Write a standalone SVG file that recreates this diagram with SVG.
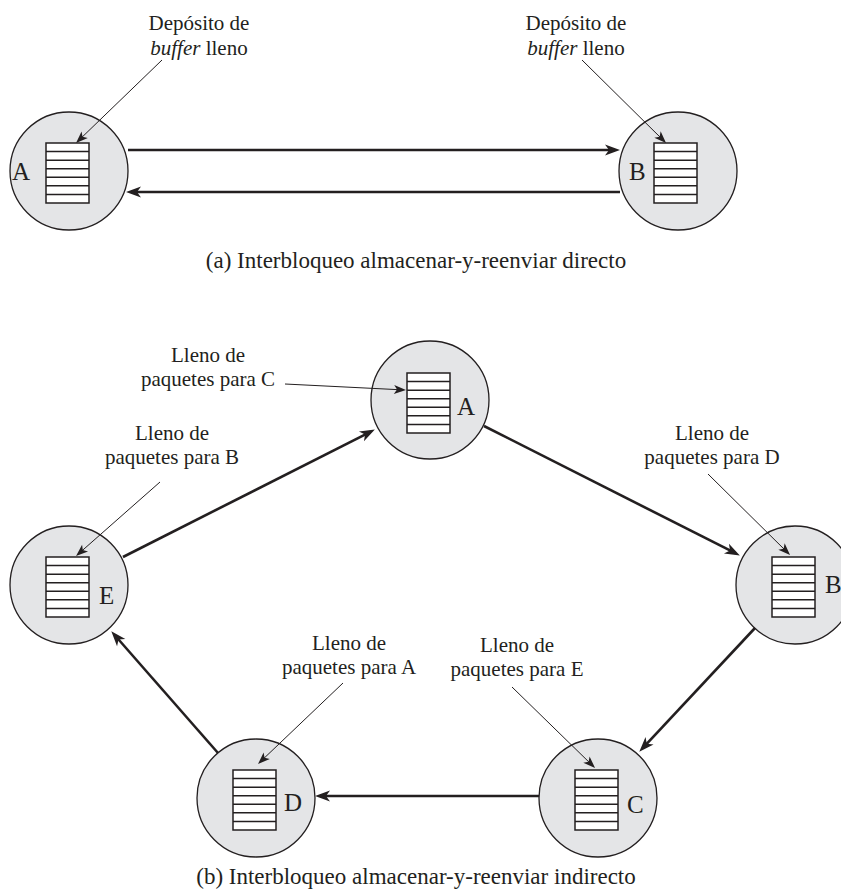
<svg xmlns="http://www.w3.org/2000/svg" xmlns:xlink="http://www.w3.org/1999/xlink" width="841" height="893" viewBox="0 0 841 893">
  <style>
    text { font-family: "Liberation Serif", "Times New Roman", serif; fill: #231f20; }
    .lbl { font-size: 21px; text-anchor: middle; }
    .cap { font-size: 23px; text-anchor: middle; }
    .nid { font-size: 25px; }
    .node circle { fill: #e4e5e7; stroke: #231f20; stroke-width: 1.3; }
    .link { fill: none; stroke: #231f20; stroke-width: 2.6; marker-end: url(#head); }
    .lead { fill: none; stroke: #231f20; stroke-width: 1; marker-end: url(#headS); }
  </style>
  <defs>
    <marker id="head" markerUnits="userSpaceOnUse" markerWidth="16" markerHeight="12" refX="10" refY="5.5" orient="auto" overflow="visible">
      <path d="M0,0 L15,5.5 L0,11 L4,5.5 z" fill="#231f20"/>
    </marker>
    <marker id="headS" markerUnits="userSpaceOnUse" markerWidth="14" markerHeight="10" refX="9" refY="4.5" orient="auto" overflow="visible">
      <path d="M0,0 L12,4.5 L0,9 L3,4.5 z" fill="#231f20"/>
    </marker>
    <!-- buffer: seven slots stacked -->
    <g id="buf">
      <rect x="0" y="0" width="43" height="60" fill="#ffffff" stroke="#231f20" stroke-width="1.5"/>
      <path d="M0,8.57 H43 M0,17.14 H43 M0,25.71 H43 M0,34.29 H43 M0,42.86 H43 M0,51.43 H43" stroke="#231f20" stroke-width="1.5"/>
    </g>
  </defs>

  <!-- (a) direct deadlock -->
  <g id="a-nodeA" class="node">
    <circle cx="69" cy="171" r="59"/>
    <use xlink:href="#buf" x="46" y="143"/>
    <text class="nid" x="12" y="180">A</text>
  </g>
  <g id="a-nodeB" class="node">
    <circle cx="678" cy="171" r="59"/>
    <use xlink:href="#buf" x="654" y="143"/>
    <text class="nid" x="629" y="180">B</text>
  </g>
  <g id="a-labels">
    <text class="lbl" x="199" y="30">Depósito de</text>
    <text class="lbl" x="199" y="55"><tspan font-style="italic">buffer</tspan> lleno</text>
    <text class="lbl" x="576" y="30">Depósito de</text>
    <text class="lbl" x="576" y="55"><tspan font-style="italic">buffer</tspan> lleno</text>
    <text class="cap" x="416" y="268">(a) Interbloqueo almacenar-y-reenviar directo</text>
  </g>
  <g id="a-connectors">
    <line class="link" x1="128" y1="150" x2="615" y2="150"/>
    <line class="link" x1="620" y1="192" x2="131" y2="192"/>
    <line class="lead" x1="162" y1="60" x2="78.2" y2="140.9"/>
    <line class="lead" x1="582" y1="60" x2="663.9" y2="140.9"/>
  </g>

  <!-- (b) indirect deadlock -->
  <g id="b-nodeA" class="node">
    <circle cx="430" cy="400" r="59"/>
    <use xlink:href="#buf" x="407" y="373"/>
    <text class="nid" x="457" y="415">A</text>
  </g>
  <g id="b-nodeB" class="node">
    <circle cx="795" cy="585" r="59"/>
    <use xlink:href="#buf" x="772" y="557"/>
    <text class="nid" x="825" y="593">B</text>
  </g>
  <g id="b-nodeC" class="node">
    <circle cx="598" cy="798" r="59"/>
    <use xlink:href="#buf" x="575" y="770"/>
    <text class="nid" x="627" y="813">C</text>
  </g>
  <g id="b-nodeD" class="node">
    <circle cx="256" cy="798" r="59"/>
    <use xlink:href="#buf" x="233" y="770"/>
    <text class="nid" x="284" y="811">D</text>
  </g>
  <g id="b-nodeE" class="node">
    <circle cx="69" cy="585" r="59"/>
    <use xlink:href="#buf" x="46" y="557"/>
    <text class="nid" x="99" y="604">E</text>
  </g>
  <g id="b-labels">
    <text class="lbl" x="208" y="362">Lleno de</text>
    <text class="lbl" x="208" y="386">paquetes para C</text>
    <text class="lbl" x="172" y="440">Lleno de</text>
    <text class="lbl" x="172" y="464">paquetes para B</text>
    <text class="lbl" x="712" y="440">Lleno de</text>
    <text class="lbl" x="712" y="464">paquetes para D</text>
    <text class="lbl" x="349" y="650">Lleno de</text>
    <text class="lbl" x="349" y="674">paquetes para A</text>
    <text class="lbl" x="517" y="652">Lleno de</text>
    <text class="lbl" x="517" y="676">paquetes para E</text>
    <text class="cap" x="416" y="884">(b) Interbloqueo almacenar-y-reenviar indirecto</text>
  </g>
  <g id="b-connectors">
    <line class="link" x1="123" y1="557" x2="370.4" y2="431.8"/>
    <line class="link" x1="484" y1="426" x2="735.4" y2="553.2"/>
    <line class="link" x1="755" y1="628" x2="642.7" y2="748.1"/>
    <line class="link" x1="539" y1="796" x2="320" y2="796"/>
    <line class="link" x1="218" y1="753" x2="114.6" y2="635"/>
    <line class="lead" x1="285" y1="384" x2="403" y2="389.9"/>
    <line class="lead" x1="160" y1="482" x2="78.3" y2="554"/>
    <line class="lead" x1="708" y1="474" x2="787.9" y2="552.9"/>
    <line class="lead" x1="343" y1="683" x2="260.2" y2="761.9"/>
    <line class="lead" x1="512" y1="687" x2="592.9" y2="765.9"/>
  </g>
</svg>
